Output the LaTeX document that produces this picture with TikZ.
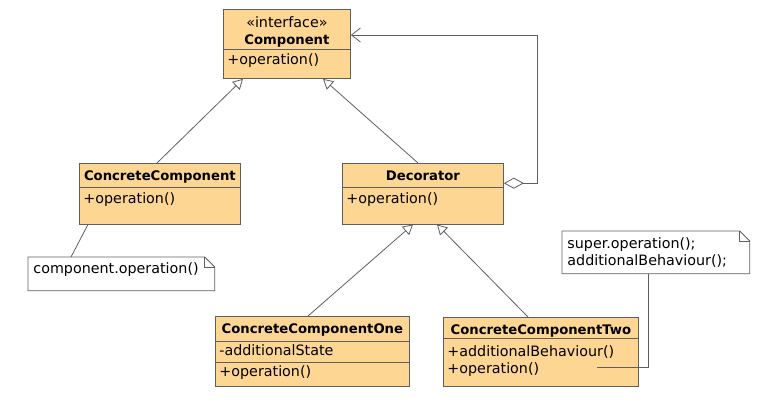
\documentclass[tikz,border=0pt]{standalone}
\usepackage{fontspec}
\setmainfont{DejaVu Sans}
\usetikzlibrary{shapes.multipart,arrows.meta,positioning}

\definecolor{classfill}{RGB}{254,214,148}
\definecolor{linegray}{RGB}{95,95,95}

% strut: height above, depth below the baseline
\newcommand{\rowstrut}[2]{\rule[-#2]{0pt}{\dimexpr#1+#2\relax}}
\newcommand{\hd}[1]{{\fontsize{13.2}{18}\selectfont\bfseries #1}}

\begin{document}
\begin{tikzpicture}[x=1pt, y=-1pt, line width=0.8pt,
                    class node/.style={rectangle split, rectangle split parts=#1,
                      draw=linegray, fill=classfill, anchor=north west,
                      rectangle split part align={center,left,left},
                      inner xsep=4pt, inner ysep=0pt, align=left,
                      font=\fontsize{14.3}{16.5}\selectfont},
                    note node/.style={anchor=north west, inner xsep=5pt, inner ysep=0pt,
                      align=left, font=\fontsize{14.3}{17}\selectfont},
                    line/.style={draw=linegray},
                    gen/.style={line, -{Triangle[open,length=10pt,width=11pt]}}]

  \useasboundingbox (0,0) rectangle (775,402);

  \node[class node=2, minimum width=127pt, align=center] (component) at (223,9)
    {\rowstrut{18pt}{0pt}«interface»\\\hd{Component}\rowstrut{0pt}{5pt}
     \nodepart{two}\rowstrut{14pt}{14pt}+operation()};
  \node[class node=2, minimum width=161pt] (concrete) at (79,163)
    {\rowstrut{17pt}{6pt}\hd{ConcreteComponent}
     \nodepart{two}\rowstrut{16pt}{20pt}+operation()};
  \node[class node=2, minimum width=161pt] (decorator) at (342,163)
    {\rowstrut{17pt}{6pt}\hd{Decorator}
     \nodepart{two}\rowstrut{16pt}{20pt}+operation()};
  \node[class node=3, minimum width=194pt] (one) at (215,316)
    {\rowstrut{17pt}{7pt}\hd{ConcreteComponentOne}
     \nodepart{two}\rowstrut{14pt}{6pt}-additionalState
     \nodepart{three}\rowstrut{14pt}{10pt}+operation()};
  \node[class node=2, minimum width=195pt] (two) at (443,317)
    {\rowstrut{17pt}{3pt}\hd{ConcreteComponentTwo}
     \nodepart{two}\rowstrut{18pt}{0pt}+additionalBehaviour()\\+operation()\rowstrut{0pt}{13pt}};

  \node[note node, text width=176pt, text height=16.5pt, text depth=16.5pt] (note1) at (28,257)
    {component.operation()};
  \node[note node, text width=177pt, text height=17pt, text depth=25pt] (note2) at (562,231)
    {super.operation();\\additionalBehaviour();};

  % note outlines with folded corner
  \draw[line] (note1.north west) -- ([xshift=-10pt]note1.north east) -- ([yshift=-10pt]note1.north east)
    -- (note1.south east) -- (note1.south west) -- cycle;
  \draw[line] ([xshift=-10pt]note1.north east) |- ([yshift=-10pt]note1.north east);
  \draw[line] (note2.north west) -- ([xshift=-10pt]note2.north east) -- ([yshift=-10pt]note2.north east)
    -- (note2.south east) -- (note2.south west) -- cycle;
  \draw[line] ([xshift=-10pt]note2.north east) |- ([yshift=-10pt]note2.north east);

  \coordinate (bend) at (537,35);
  \coordinate (optwo) at (597,367);

\path
    ([xshift=78pt]concrete.north west) edge[gen] ([xshift=20pt]component.south west)
    ([xshift=76pt]decorator.north west) edge[gen] ([xshift=100pt]component.south west)
    ([xshift=93pt]one.north west) edge[gen] ([xshift=71pt]decorator.south west)
    ([xshift=85pt]two.north west) edge[gen] ([xshift=95pt]decorator.south west);

  \draw[line, {Diamond[open,fill=white,length=20pt,width=11pt]}-{Straight Barb[length=9pt,width=14pt]}]
    ([yshift=10.5pt]decorator.east) -| (bend) -- (component.east |- bend);

  \draw[line] ([xshift=43pt]note1.north west) -- ([xshift=9pt]concrete.south west);
  \draw[line] ([xshift=86pt]note2.south west) |- (optwo);

\end{tikzpicture}
\end{document}
